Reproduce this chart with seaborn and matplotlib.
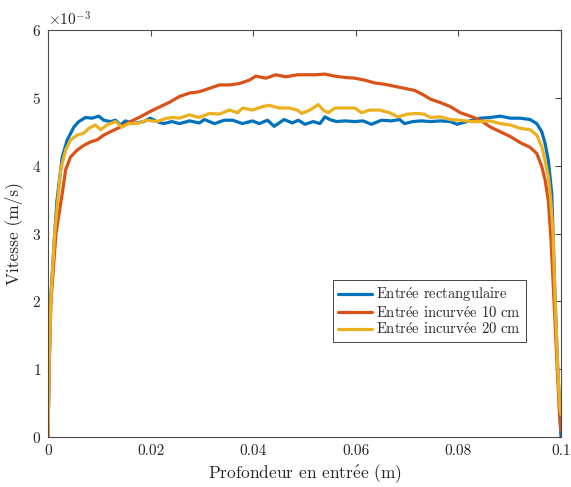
import matplotlib
matplotlib.use("Agg")
import matplotlib.pyplot as plt
import numpy as np
import pandas as pd
import seaborn as sns
from matplotlib.ticker import FixedLocator, FixedFormatter, ScalarFormatter

# ---------------- data (velocity in 1e-3 m/s) ----------------
series_names = ["Entrée rectangulaire", "Entrée incurvée 10 cm", "Entrée incurvée 20 cm"]
series_colors = ["#0072BD", "#D95319", "#EDB120"]

x_rect = [0, 0.0002, 0.0005, 0.0013, 0.00175, 0.00278, 0.00375, 0.00505, 0.0060, 0.00732,
          0.0086, 0.0099, 0.01087, 0.01217, 0.01315, 0.01412, 0.01509, 0.0167, 0.01864, 0.01994,
          0.02122, 0.02252, 0.02414, 0.02563, 0.02757, 0.02951, 0.03049, 0.03243, 0.03437, 0.03598,
          0.03792, 0.03986, 0.04117, 0.04278, 0.04408, 0.04602, 0.04763, 0.0488, 0.0501, 0.05171,
          0.05301, 0.05398, 0.05495, 0.05625, 0.05786, 0.05981, 0.06142, 0.06305, 0.06499, 0.06693,
          0.06854, 0.06951, 0.07113, 0.07276, 0.07456, 0.0765, 0.07845, 0.07975, 0.08169, 0.08427,
          0.08621, 0.08816, 0.0901, 0.09204, 0.09398, 0.09528, 0.09625, 0.09689, 0.09753, 0.0982,
          0.09845, 0.09883, 0.09932, 0.09975, 0.1]
v_rect = [0, 1.0, 2.0, 3.0, 3.49, 4.13, 4.38, 4.57, 4.65, 4.71,
          4.70, 4.73, 4.67, 4.65, 4.67, 4.60, 4.66, 4.62, 4.65, 4.70,
          4.65, 4.62, 4.65, 4.62, 4.66, 4.63, 4.68, 4.62, 4.67, 4.67,
          4.62, 4.66, 4.62, 4.67, 4.58, 4.68, 4.63, 4.67, 4.61, 4.65,
          4.62, 4.72, 4.68, 4.65, 4.66, 4.65, 4.66, 4.61, 4.67, 4.66,
          4.68, 4.62, 4.65, 4.66, 4.65, 4.66, 4.65, 4.61, 4.65, 4.70,
          4.71, 4.73, 4.70, 4.70, 4.68, 4.62, 4.50, 4.33, 4.08, 3.59,
          3.0, 2.07, 1.09, 0.35, 0.0]

x_inc10 = [0, 0.00023, 0.00058, 0.00155, 0.00278, 0.00344, 0.00441, 0.00569, 0.00699, 0.00829,
           0.00957, 0.01087, 0.01217, 0.01412, 0.01606, 0.018, 0.01994, 0.02188, 0.02383, 0.02563,
           0.02757, 0.02951, 0.03146, 0.0334, 0.03534, 0.03728, 0.03922, 0.04052, 0.04247, 0.04441,
           0.04635, 0.0486, 0.0501, 0.05204, 0.05398, 0.05592, 0.05786, 0.05981, 0.06175, 0.06369,
           0.06563, 0.06757, 0.06951, 0.07146, 0.07326, 0.07456, 0.0765, 0.07845, 0.08039, 0.08233,
           0.08427, 0.08621, 0.08816, 0.0901, 0.09204, 0.09398, 0.09528, 0.09625, 0.09689, 0.09753,
           0.09806, 0.09864, 0.09922, 0.09971, 0.1]
v_inc10 = [0, 1.0, 2.0, 3.0, 3.59, 3.94, 4.13, 4.23, 4.30, 4.35,
           4.38, 4.45, 4.50, 4.57, 4.65, 4.72, 4.80, 4.87, 4.94, 5.02,
           5.07, 5.09, 5.14, 5.19, 5.19, 5.21, 5.26, 5.32, 5.29, 5.34,
           5.31, 5.34, 5.34, 5.34, 5.35, 5.32, 5.30, 5.29, 5.26, 5.22,
           5.20, 5.17, 5.14, 5.11, 5.04, 4.98, 4.93, 4.87, 4.78, 4.73,
           4.67, 4.57, 4.50, 4.43, 4.34, 4.27, 4.18, 3.99, 3.79, 3.49,
           2.9, 2.0, 1.09, 0.35, 0.09]

x_inc20 = [0, 0.0002, 0.00054, 0.0013, 0.00247, 0.00344, 0.00441, 0.00569, 0.00699, 0.00796,
           0.00926, 0.01023, 0.01151, 0.01315, 0.01443, 0.01573, 0.01734, 0.01928, 0.02122, 0.02317,
           0.02447, 0.02563, 0.02757, 0.02951, 0.03146, 0.0334, 0.03534, 0.03695, 0.03792, 0.03986,
           0.04181, 0.04311, 0.04505, 0.04699, 0.0486, 0.04946, 0.05107, 0.05268, 0.05365, 0.05462,
           0.05592, 0.05786, 0.05981, 0.06111, 0.06272, 0.06466, 0.0666, 0.06821, 0.07016, 0.0721,
           0.07326, 0.07456, 0.0765, 0.07845, 0.08039, 0.08233, 0.08427, 0.08621, 0.08816, 0.0901,
           0.09204, 0.09398, 0.09528, 0.09625, 0.09689, 0.09753, 0.098, 0.09845, 0.09883, 0.09932,
           0.09975, 0.1]
v_inc20 = [0, 1.0, 2.0, 3.0, 3.94, 4.23, 4.38, 4.45, 4.48, 4.55,
           4.60, 4.53, 4.60, 4.65, 4.57, 4.62, 4.62, 4.67, 4.65, 4.70,
           4.71, 4.70, 4.75, 4.71, 4.77, 4.76, 4.82, 4.78, 4.85, 4.82,
           4.87, 4.89, 4.85, 4.85, 4.82, 4.77, 4.82, 4.90, 4.82, 4.78,
           4.85, 4.85, 4.85, 4.78, 4.82, 4.82, 4.78, 4.72, 4.76, 4.77,
           4.76, 4.71, 4.72, 4.68, 4.67, 4.65, 4.65, 4.66, 4.62, 4.60,
           4.55, 4.53, 4.45, 4.28, 4.08, 3.84, 3.49, 3.0, 2.07, 1.09,
           0.45, 0.33]

xtick_values = [0, 0.02, 0.04, 0.06, 0.08, 0.1]
xtick_labels = ["0", "0.02", "0.04", "0.06", "0.08", "0.1"]
ytick_values = [0, 1, 2, 3, 4, 5, 6]
x_label = "Profondeur en entrée (m)"
y_label = "Vitesse (m/s)"


def tex(s):
    # Computer Modern has no precomposed é: build it with a mathtext accent
    return s.replace("é", r"$\mathrm{\acute{e}}$")


# ---------------- build long table ----------------
frames = []
for name, xs, vs in zip(series_names, [x_rect, x_inc10, x_inc20], [v_rect, v_inc10, v_inc20]):
    frames.append(pd.DataFrame({"x": xs, "v": np.asarray(vs) * 1e-3, "serie": name}))
df = pd.concat(frames, ignore_index=True)

# ---------------- style ----------------
sns.set_style("white")
plt.rcParams["font.family"] = ["cmr10", "DejaVu Serif"]
plt.rcParams["mathtext.fontset"] = "cm"
plt.rcParams["axes.formatter.use_mathtext"] = True
plt.rcParams["axes.unicode_minus"] = False

axcol = "#4a4a4a"
txtcol = "#262626"

fig = plt.figure(figsize=(5.71, 4.87), dpi=100)
ax = fig.add_axes([48 / 571, 50 / 487, 513 / 571, 407 / 487])

sns.lineplot(data=df, x="x", y="v", hue="serie", hue_order=series_names,
             palette=series_colors, sort=False, estimator=None,
             linewidth=2.3, ax=ax)

ax.set_xlim(0, 0.1)
ax.set_ylim(0, 6e-3)

ax.xaxis.set_major_locator(FixedLocator(xtick_values))
ax.xaxis.set_major_formatter(FixedFormatter(xtick_labels))
ax.yaxis.set_major_locator(FixedLocator([t * 1e-3 for t in ytick_values]))
fmt = ScalarFormatter(useMathText=True)
fmt.set_powerlimits((0, 0))
ax.yaxis.set_major_formatter(fmt)

for s in ax.spines.values():
    s.set_visible(True)
    s.set_color(axcol)
    s.set_linewidth(0.8)

ax.tick_params(axis="both", which="major", direction="in", length=4,
               width=0.8, color=axcol, labelsize=11, labelcolor=txtcol,
               top=True, right=True, pad=5)
ax.yaxis.get_offset_text().set_fontsize(11)
ax.yaxis.get_offset_text().set_color(txtcol)

ax.set_xlabel(tex(x_label), fontsize=12.5, color=txtcol, labelpad=3)
ax.set_ylabel(y_label, fontsize=12.5, color=txtcol, labelpad=6)

handles, labels = ax.get_legend_handles_labels()
leg = ax.legend(handles, [tex(l) for l in labels],
                loc="lower right", bbox_to_anchor=(0.932, 0.233), borderaxespad=0,
                fontsize=10.5, frameon=True, fancybox=False, edgecolor=txtcol,
                framealpha=1, handlelength=2.3, handletextpad=0.3, labelspacing=0.05,
                borderpad=0.35)
leg.get_frame().set_linewidth(0.6)
for t in leg.get_texts():
    t.set_color(txtcol)

fig.savefig("out.png", dpi=100)
